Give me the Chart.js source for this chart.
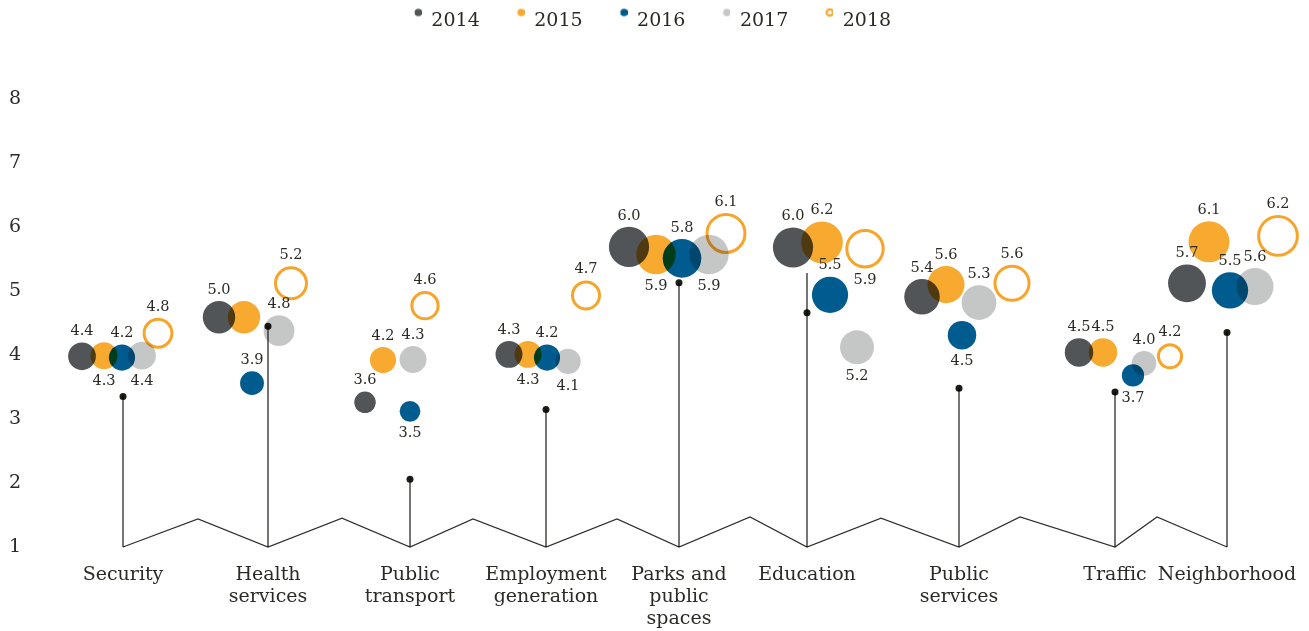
<!DOCTYPE html>
<html lang="en">
<head>
  <meta charset="UTF-8">
  <title>Satisfaction by service, 2014-2018</title>
  <script src="https://cdn.jsdelivr.net/npm/chart.js@4.4.1/dist/chart.umd.min.js"></script>
  <style>
    html, body { margin: 0; padding: 0; background: #fff; }
    .plot-container { width: 1309px; height: 631px; position: relative; }
  </style>
</head>
<body>
  <div class="plot-container">
    <canvas id="plot"></canvas>
  </div>

  <script>
    const FONT = "'DejaVu Serif', serif";
    const INK = '#2b2b24';

    // categories along the bottom (multi-line labels)
    const categories = [
      ['Security'], ['Health', 'services'], ['Public', 'transport'], ['Employment', 'generation'],
      ['Parks and', 'public', 'spaces'], ['Education'], ['Public', 'services'], ['Traffic'], ['Neighborhood']
    ];
    const years = ['2014', '2015', '2016', '2017', '2018'];

    // position of each category along the axis
    const catPos = [93, 238, 380, 516, 649, 777, 929, 1085, 1197];

    // zigzag base line: peaks between the categories
    const zigPeakPos = [168, 312, 443, 587, 720, 851, 990, 1127];
    const zigPeakLevel = [1.44, 1.45, 1.44, 1.44, 1.47, 1.45, 1.47, 1.47];

    // stem with dot for each category
    const markerLevel = [3.35, 4.45, 2.06, 3.15, 5.13, 4.66, 3.48, 3.42, 4.35];
    const stemTop = [3.35, 4.45, 2.06, 3.15, 5.13, 5.28, 3.48, 3.42, 4.35];

    // shown values (label text, also drives bubble size)
    const val2014 = [4.4, 5.0, 3.6, 4.3, 6.0, 6.0, 5.4, 4.5, 5.7];
    const val2015 = [4.3, 5.0, 4.2, 4.3, 5.9, 6.2, 5.6, 4.5, 6.1];
    const val2016 = [4.2, 3.9, 3.5, 4.2, 5.8, 5.5, 4.5, 3.7, 5.5];
    const val2017 = [4.4, 4.8, 4.3, 4.1, 5.9, 5.2, 5.3, 4.0, 5.6];
    const val2018 = [4.8, 5.2, 4.6, 4.7, 6.1, 5.9, 5.6, 4.2, 6.2];

    // vertical level of each bubble on the 1-8 scale
    const lvl2014 = [3.98, 4.59, 3.26, 4.01, 5.69, 5.68, 4.91, 4.04, 5.12];
    const lvl2015 = [3.99, 4.59, 3.92, 4.01, 5.57, 5.76, 5.10, 4.04, 5.77];
    const lvl2016 = [3.96, 3.56, 3.12, 3.96, 5.51, 4.94, 4.31, 3.68, 5.01];
    const lvl2017 = [3.99, 4.38, 3.93, 3.90, 5.57, 4.12, 4.82, 3.87, 5.07];
    const lvl2018 = [4.34, 5.12, 4.77, 4.93, 5.90, 5.66, 5.12, 3.98, 5.86];

    // shift of each bubble from its category position
    const off2014 = [-41, -49, -45, -37, -50, -14, -37, -36, -40];
    const off2015 = [-19, -24, -27, -18, -23, 15, -13, -12, -18];
    const off2016 = [-1, -16, 0, 1, 3, 23, 3, 18, 3];
    const off2017 = [19, 11, 3, 22, 30, 50, 20, 29, 28];
    const off2018 = [35, 23, 15, 40, 47, 58, 53, 55, 51];

    // where the value label sits: above, below or none
    const side2014 = ['up', 'up', 'up', 'up', 'up', 'up', 'up', 'up', 'up'];
    const side2015 = ['down', null, 'up', 'down', 'down', 'up', 'up', 'up', 'up'];
    const side2016 = ['up', 'up', 'down', 'up', 'up', 'up', 'down', 'down', 'up'];
    const side2017 = ['down', 'up', 'up', 'down', 'down', 'down', 'up', 'up', 'up'];
    const side2018 = ['up', 'up', 'up', 'up', 'up', 'down', 'up', 'up', 'up'];

    const values = [val2014, val2015, val2016, val2017, val2018];
    const levels = [lvl2014, lvl2015, lvl2016, lvl2017, lvl2018];
    const offsets = [off2014, off2015, off2016, off2017, off2018];
    const sides = [side2014, side2015, side2016, side2017, side2018];
    const yearColors = ['#515558', '#f8a930', '#005b8f', '#c5c6c6', '#f6a52a'];

    const radiusFor = v => 3.9 * v - 3.3;

    // legend marker: small dot raised above the text line
    function legendDot(color, hollow) {
      const c = document.createElement('canvas');
      c.width = 33;
      c.height = 30;
      const g = c.getContext('2d');
      g.beginPath();
      g.arc(29.5, 6, hollow ? 3.2 : 3.8, 0, Math.PI * 2);
      if (hollow) {
        g.strokeStyle = color;
        g.lineWidth = 2.2;
        g.stroke();
      } else {
        g.fillStyle = color;
        g.fill();
      }
      return c;
    }
    const legendDots = yearColors.map((c, k) => legendDot(c, k === 4));

    const yearSets = years.map((yr, k) => ({
      type: 'bubble',
      label: yr,
      data: catPos.map((p, i) => ({ x: p + offsets[k][i], y: levels[k][i], v: values[k][i], side: sides[k][i] })),
      backgroundColor: k === 4 ? 'rgba(0,0,0,0)' : yearColors[k],
      borderColor: yearColors[k],
      borderWidth: k === 4 ? 3 : 0,
      radius: ctx => radiusFor(ctx.raw.v) - (k === 4 ? 1.5 : 0),
      clip: false
    }));

    const zigzag = [];
    catPos.forEach((p, i) => {
      zigzag.push({ x: p, y: 1 });
      if (i < zigPeakPos.length) zigzag.push({ x: zigPeakPos[i], y: zigPeakLevel[i] });
    });

    const stems = [];
    catPos.forEach((p, i) => {
      stems.push({ x: p, y: 1 }, { x: p, y: stemTop[i] }, { x: p, y: null });
    });

    const data = {
      datasets: [
        ...yearSets,
        {
          type: 'scatter',
          label: 'marker',
          data: catPos.map((p, i) => ({ x: p, y: markerLevel[i] })),
          backgroundColor: '#1c1c16',
          borderWidth: 0,
          pointRadius: 3.5,
          clip: false
        },
        {
          type: 'line',
          label: 'stems',
          data: stems,
          borderColor: '#2a2a26',
          borderWidth: 1.3,
          pointRadius: 0,
          spanGaps: false,
          clip: false
        },
        {
          type: 'line',
          label: 'zigzag',
          data: zigzag,
          borderColor: '#2f2f2a',
          borderWidth: 1.3,
          pointRadius: 0,
          tension: 0,
          clip: false
        }
      ]
    };

    // multiply blending for the overlapping bubbles, then value labels
    const blendAndLabels = {
      id: 'blendAndLabels',
      beforeInit(chart) {
        const fit = chart.legend.fit;
        chart.legend.fit = function () { fit.call(this); this.height = 99; };
      },
      afterLayout(chart) {
        chart.legend.left -= 38;
      },
      beforeDatasetsDraw(chart) {
        chart.ctx.save();
        chart.ctx.globalCompositeOperation = 'multiply';
      },
      afterDatasetsDraw(chart) {
        const ctx = chart.ctx;
        ctx.restore();
        ctx.save();
        ctx.font = '14.5px ' + FONT;
        ctx.fillStyle = INK;
        ctx.textAlign = 'center';
        ctx.textBaseline = 'middle';
        years.forEach((yr, k) => {
          const meta = chart.getDatasetMeta(k);
          meta.data.forEach((pt, i) => {
            const raw = chart.data.datasets[k].data[i];
            if (!raw.side) return;
            const r = pt.options.radius + (k === 4 ? 1.5 : 0);
            const y = raw.side === 'up' ? pt.y - r - 11 : pt.y + r + 12;
            ctx.fillText(raw.v.toFixed(1), pt.x, y);
          });
        });
        ctx.restore();
      }
    };

    const config = {
      data,
      options: {
        responsive: true,
        maintainAspectRatio: false,
        animation: false,
        events: [],
        layout: { autoPadding: false, padding: { left: 9, right: 0, top: 0, bottom: 0 } },
        plugins: {
          tooltip: { enabled: false },
          legend: {
            position: 'top',
            labels: {
              usePointStyle: true,
              pointStyleWidth: 33,
              boxHeight: 19,
              padding: 12,
              color: INK,
              font: { family: FONT, size: 19 },
              generateLabels: chart => Chart.defaults.plugins.legend.labels.generateLabels(chart)
                .filter(it => it.datasetIndex < 5)
                .map(it => Object.assign(it, { pointStyle: legendDots[it.datasetIndex], fontColor: INK }))
            }
          }
        },
        scales: {
          x: {
            type: 'linear',
            min: 0,
            max: 1279,
            grid: { display: false, drawTicks: false },
            border: { display: false },
            afterBuildTicks: s => { s.ticks = catPos.map(v => ({ value: v })); },
            afterFit: s => { s.height = 84; s.paddingLeft = 0; s.paddingRight = 0; },
            ticks: {
              autoSkip: false,
              maxRotation: 0,
              minRotation: 0,
              padding: 17,
              color: INK,
              font: { family: FONT, size: 19, lineHeight: 1.16 },
              callback: (v, i) => categories[i]
            }
          },
          y: {
            min: 1,
            max: 8,
            grid: { display: false, drawTicks: false },
            border: { display: false },
            afterFit: s => { s.width = 21; },
            ticks: {
              stepSize: 1,
              crossAlign: 'far',
              padding: 0,
              color: INK,
              font: { family: FONT, size: 19 }
            }
          }
        }
      },
      plugins: [blendAndLabels]
    };

    const plot = new Chart(document.getElementById('plot'), config);
  </script>
</body>
</html>
